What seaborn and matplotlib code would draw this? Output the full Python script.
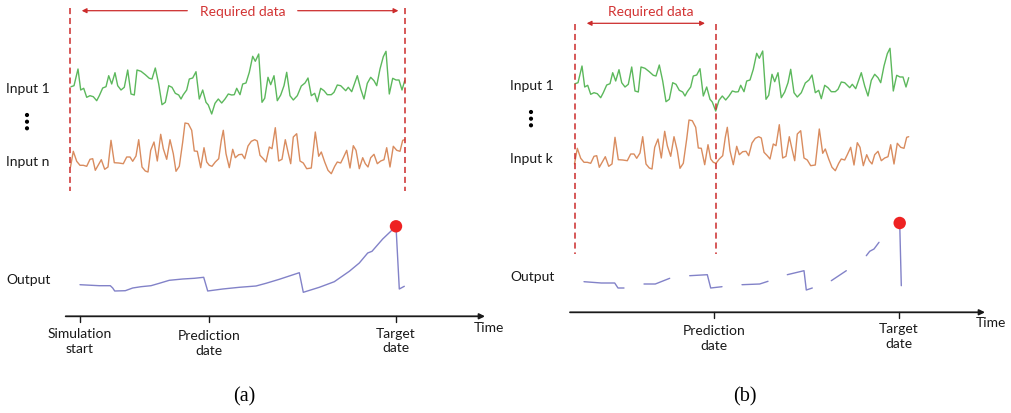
import numpy as np
import pandas as pd
import matplotlib
matplotlib.use("Agg")
import matplotlib.pyplot as plt
import seaborn as sns

# ---------------- data (panel-local units) ----------------
input1_time = [71, 74, 78, 80.7, 83.7, 86.7, 90, 93.3, 96.7, 99.3, 102.7, 106, 108.7, 111.7, 115, 117.7, 121, 124.3,
               127.7, 131, 134.3, 137, 141, 145.3, 149.3, 152, 155.3, 158.7, 162, 165.3, 168.7, 172, 175.3, 178.7, 181,
               183.3, 186.7, 189.3, 192.7, 196, 199.3, 202.7, 206, 208.3, 211.7, 215, 218.3, 221.7, 225, 228.3, 231.7,
               234.3, 236.7, 240, 242.7, 246, 249.3, 252.7, 255.3, 258.7, 262, 264.7, 268, 270.7, 274, 277.3, 280.7,
               284, 286.7, 290, 293.3, 297.3, 301.3, 305, 308, 311.3, 314.7, 317.3, 320.7, 324, 327.3, 331.3, 334,
               337.3, 340.7, 345.7, 348.3, 351.7, 357.3, 360.7, 364, 367.3, 370.7, 374, 376.7, 380, 383.3, 386, 389.3,
               392.7, 396, 399, 402, 404.7]
input1_value = [87.7, 86.7, 70, 91, 89.3, 98.3, 96.7, 97.7, 101.7, 96.7, 89, 87.7, 76.7, 85, 73.7, 86.7, 91, 88.3,
                71, 95, 96, 71, 72.3, 75.7, 79.3, 80, 69, 85, 105.7, 103.3, 86.7, 88.3, 94.3, 96, 100,
                95.7, 91, 80, 79, 72.7, 100, 91, 103.3, 106, 115, 104.3, 100, 104, 100, 95, 96,
                95.7, 89.3, 95.7, 85, 84, 73.3, 57.3, 62.3, 55, 103.3, 99.3, 78.3, 85.7, 76.7, 101.7, 96,
                86.7, 73.3, 96.7, 101, 96.7, 87, 84, 79, 96.7, 94.3, 102.7, 89.3, 91.7, 95.7, 95.7, 93.3,
                86, 86.7, 91.7, 88.3, 92.7, 76.7, 90, 100, 84.3, 78.3, 81.7, 86.7, 70, 57.7, 52.3, 95,
                79.3, 81, 81, 91, 81.7]

inputn_time = [70.5, 73.3, 76.7, 80, 83.3, 86.7, 90, 92.7, 95.3, 98.7, 101.3, 104.7, 108, 111, 114.3, 118.7, 123.3,
               126.7, 130, 132.7, 136, 138.7, 142, 145.3, 148, 150.7, 154, 157.3, 160.7, 163.3, 166.7, 170, 173.3,
               176, 179.3, 182.7, 185, 188.3, 191.7, 194.3, 197.3, 200.7, 204, 206.7, 209.3, 212, 215.3, 218.7,
               221.3, 223.3, 226, 229.3, 232.7, 235.3, 238.7, 242, 244.7, 248, 251.3, 254.7, 257.3, 260, 263.3,
               266, 269.3, 272, 275.3, 278.7, 282, 285.3, 288, 290.7, 293.3, 296.7, 300, 303.3, 306.7, 311.3,
               315.3, 318.7, 321.3, 324.7, 328, 331.3, 334.7, 337.3, 340.7, 343.3, 346.7, 350, 353.3, 356, 359.3,
               362.7, 365.3, 368, 370.7, 374, 377.3, 380.7, 384, 386.7, 390, 393.3, 396.7, 400, 402.7, 404.7]
inputn_value = [168, 152.3, 162.3, 166.3, 166.3, 167.3, 160.3, 159.7, 171.3, 165.3, 160.7, 170.3, 168, 141.3, 163.7,
                164, 164.7, 158, 158, 162.3, 157, 140.7, 168, 172, 173, 151.3, 143, 162, 135.3, 149.7, 160.3,
                140.7, 154.7, 172.3, 167.3, 143, 124, 124.7, 131.3, 152, 152.3, 168.7, 148.7, 163, 166.3, 167.3,
                163, 159.7, 141.3, 131.3, 154.7, 168.7, 150.3, 158.7, 155.7, 155.3, 159.7, 147, 142.3, 140.7, 142,
                156.3, 159.7, 163, 148, 149.7, 128.7, 162, 160.3, 140.7, 153, 164.7, 138, 134.7, 162, 164, 169.7,
                169, 133, 157.3, 153, 163, 171.3, 174.7, 167.3, 163, 164, 158.7, 151.3, 169, 146.7, 151.3, 169.7,
                158.7, 164.7, 168, 158.7, 155.3, 164.7, 162, 160.7, 148.7, 168, 147.3, 151.3, 152.3, 141.3, 140.7]

output_time = [80, 99.3, 110.3, 112.7, 114.7, 125.3, 132.7, 141, 151, 159.3, 169.3, 182.7, 194.3, 203.7, 207.7,
               222.7, 239.3, 256, 266, 279.3, 299.3, 303.3, 319.3, 334.3, 349.3, 359.3, 367.7, 372, 382.7, 396,
               399.3, 404.3]
output_value = [285.7, 286.7, 286.7, 289, 292, 291.7, 289, 287.7, 286.7, 284.3, 281.3, 280, 279.3, 278.3, 292,
                290, 288.3, 287, 284.3, 280.3, 273.7, 293.3, 288.3, 282.7, 272.3, 264, 254, 252.3, 240, 227.3,
                290, 287.3]

# panel (b): output only available in pieces
output_b_pieces = [
    ([80, 97.3, 110.7, 114, 120], [285.7, 287, 287, 292, 292]),
    ([140, 151.3, 165.7], [288, 288, 282.3]),
    ([185.7, 203.3, 206.7, 218], [279.7, 278.7, 292, 290.7]),
    ([238, 255.7, 264], [288.7, 288, 285.3]),
    ([283.3, 300, 302.3, 308.3], [278.7, 274.7, 294, 292]),
    ([327.3, 342.3], [284.7, 274.7]),
    ([362.3, 365.7, 370, 375], [259.7, 255.3, 253, 246.3]),
    ([395.7, 397.3], [227, 289.7]),
]
target_a = (396, 227.3)
target_b = (395.7, 227)

tick_labels_a = ["Simulation\nstart", "Prediction\ndate", "Target\ndate"]
tick_pos_a = [80, 209, 396]
tick_labels_b = ["Prediction\ndate", "Target\ndate"]
tick_pos_b = [210, 395]

# ---------------- style ----------------
sns.set_theme(style="white")
plt.rcParams["font.family"] = ["Lato", "DejaVu Sans"]

GREEN = "#5cb85c"
ORANGE = "#d98c5f"
PURPLE = "#8282c8"
RED = "#cc2b2b"
TXT = "#1a1a1a"
LBL = 10

fig = plt.figure(figsize=(10.11, 4.14), dpi=100)
ax = fig.add_axes([0, 0, 1, 1])
ax.set_xlim(0, 1011)
ax.set_ylim(414, 0)
ax.axis("off")


def line(x, y, x0, dy, color, lw=1.0):
    df = pd.DataFrame({"t": np.asarray(x, float) + x0, "v": np.asarray(y, float) + dy})
    sns.lineplot(data=df, x="t", y="v", ax=ax, color=color, lw=lw, sort=False, estimator=None)


def panel(x0, dy, input_label, req_start, req_end, req_y, req_text_y, req_split, dash_bottom, dash_top,
          axis_from, axis_to, axis_y, tick_pos, tick_labels, tick_text_y, time_xy, letter, output_pieces, target):
    # inputs
    line(input1_time, input1_value, x0, dy, GREEN, 1.0)
    line(inputn_time, inputn_value, x0, dy, ORANGE, 1.0)
    # outputs
    for t, v in output_pieces:
        line(t, v, x0, dy, PURPLE, 1.0)
    sns.scatterplot(x=[target[0] + x0], y=[target[1] + dy], ax=ax, color="#ee2222", s=80,
                    edgecolor="none", zorder=5)
    # labels
    ax.text(x0 + 6, 89 + dy, "Input 1", fontsize=LBL, color=TXT, va="center", ha="left")
    ax.text(x0 + 6, 162 + dy, input_label, fontsize=LBL, color=TXT, va="center", ha="left")
    ax.text(x0 + 6, 280.5 + dy, "Output", fontsize=LBL, color=TXT, va="center", ha="left")
    sns.scatterplot(x=[x0 + 27] * 3, y=[116 + dy, 122.7 + dy, 129.3 + dy], ax=ax, color="black", s=9,
                    edgecolor="none")
    # required-data markers
    for xd in (req_start, req_end):
        ax.plot([xd + x0, xd + x0], [dash_top + dy, dash_bottom + dy], color=RED, lw=1.1,
                dashes=(4, 2.5))
    ax.text((req_start + req_end) / 2 + x0 + 5, req_text_y + dy, "Required data", color="#d23333",
            fontsize=LBL, ha="center", va="center")
    arrow = dict(arrowstyle="-|>", color=RED, lw=0.9, mutation_scale=7, shrinkA=0, shrinkB=0)
    if req_split is None:
        ax.annotate("", xy=(req_start + 11.7 + x0, req_y + dy), xytext=(req_end - 10.7 + x0, req_y + dy),
                    arrowprops=dict(arrow, arrowstyle="<|-|>"))
    else:
        ax.annotate("", xy=(req_start + 11.7 + x0, req_y + dy), xytext=(req_split[0] + x0, req_y + dy),
                    arrowprops=arrow)
        ax.annotate("", xy=(req_end - 6.3 + x0, req_y + dy), xytext=(req_split[1] + x0, req_y + dy),
                    arrowprops=arrow)
    # time axis
    ax.annotate("", xy=(axis_to + x0, axis_y + dy), xytext=(axis_from + x0, axis_y + dy),
                arrowprops=dict(arrowstyle="-|>", color=TXT, lw=1.3, mutation_scale=8, shrinkA=0, shrinkB=0))
    for tp, tl in zip(tick_pos, tick_labels):
        ax.plot([tp + x0, tp + x0], [axis_y + dy, axis_y + 6 + dy], color=TXT, lw=1.0)
        ax.text(tp + x0, tick_text_y[tl] + dy, tl, fontsize=LBL, color=TXT, ha="center", va="center",
                linespacing=1.25)
    ax.text(time_xy[0] + x0, time_xy[1] + dy, "Time", fontsize=LBL, color=TXT, ha="left", va="center")
    ax.text(x0 + (244 if letter == "(a)" else 241), 396.7, letter, fontsize=14.5, color="black",
            family="Liberation Serif", ha="center", va="center")


panel(0, 0, "Input n", 70, 404.7, 11.7, 11.7, (187.3, 297.7), 192, 9,
      65.7, 485, 317.3, tick_pos_a, tick_labels_a,
      {"Simulation\nstart": 341.5, "Prediction\ndate": 343.7, "Target\ndate": 341},
      (474, 327.7), "(a)",
      [(output_time, output_value)], target_a)

panel(504, -3, "Input k", 71, 211.7, 27.3, 14.7, None, 258, 28,
      66, 481, 316.3, tick_pos_b, tick_labels_b,
      {"Prediction\ndate": 341.3, "Target\ndate": 339.7},
      (472, 325.7), "(b)",
      output_b_pieces, target_b)

fig.savefig("out.png", dpi=100)
